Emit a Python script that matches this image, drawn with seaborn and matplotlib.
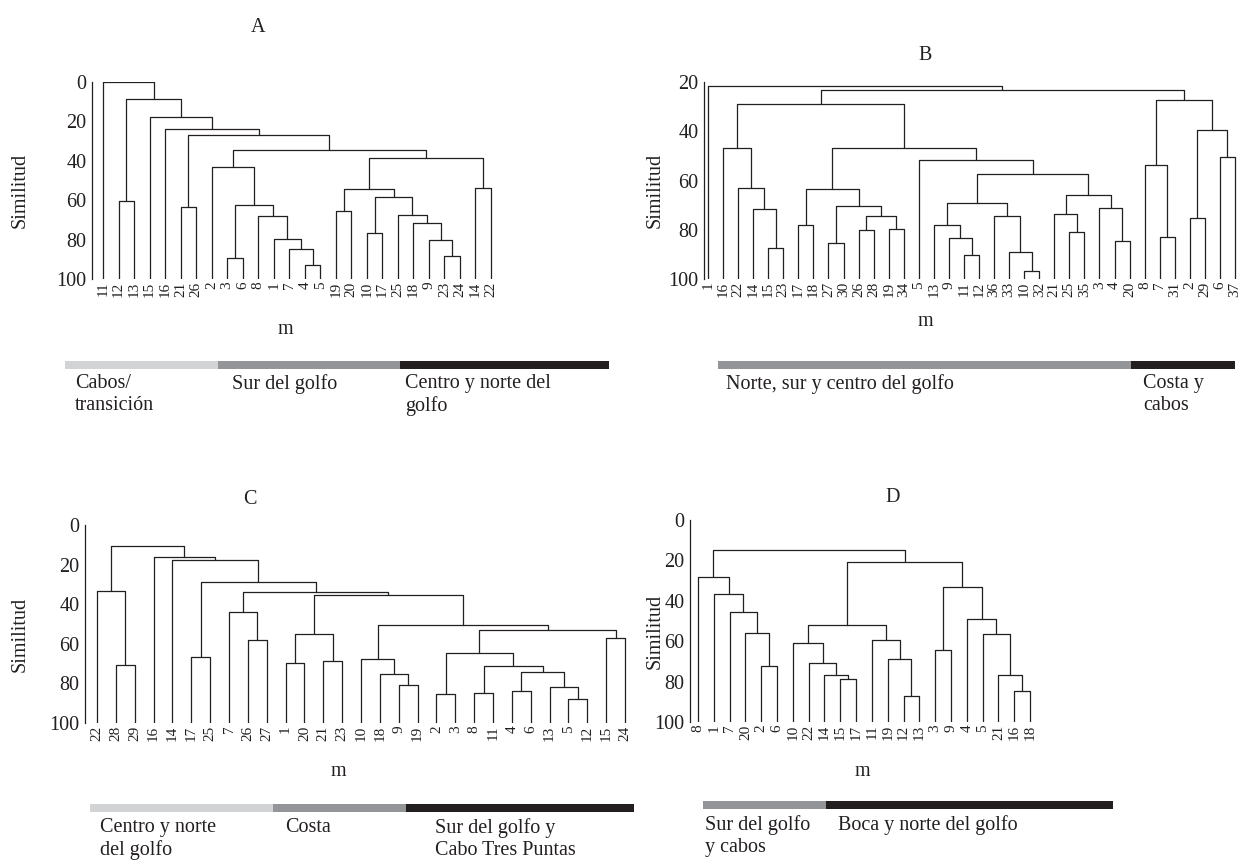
import numpy as np
import pandas as pd
import matplotlib
matplotlib.use("Agg")
import matplotlib.pyplot as plt
import seaborn as sns

sns.set_style("white")
plt.rcParams['font.family'] = ['Liberation Serif', 'DejaVu Serif']

W, H = 1256, 867
LINE = '#231f20'
LIGHT, MID, DARK = '#d1d3d4', '#939598', '#231f20'

# ---------------- data: leaf orders and merge trees (left, right, similarity) ----------------
leaves_A = [11, 12, 13, 15, 16, 21, 26, 2, 3, 6, 8, 1, 7, 4, 5, 19, 20, 10, 17, 25, 18, 9, 23, 24, 14, 22]
A_left = (2, ((3, 6, 89.2), (8, (1, (7, (4, 5, 93.0), 84.9), 79.7), 68.1), 62.2), 43.4)
A_right = (((19, 20, 65.6), ((10, 17, 76.4), (25, (18, (9, (23, 24, 88.5), 80.3), 71.7), 67.6), 58.5), 54.4),
           (14, 22, 53.7), 38.8)
tree_A = (11, ((12, 13, 60.3), (15, (16, ((21, 26, 63.7), (A_left, A_right, 34.7), 27.0), 24.0), 17.8), 8.6), 0.0)

leaves_B = [1, 16, 22, 14, 15, 23, 17, 18, 27, 30, 26, 28, 19, 34, 5, 13, 9, 11, 12, 36, 33, 10, 32,
            21, 25, 35, 3, 4, 20, 8, 7, 31, 2, 29, 6, 37]
B_y1 = (16, (22, (14, (15, 23, 87.4), 71.4), 62.9), 46.8)
B_z1 = ((17, 18, 78.0), ((27, 30, 85.4), ((26, 28, 80.0), (19, 34, 79.7), 74.4), 70.2), 63.3)
B_w1 = ((13, (9, (11, 12, 90.2), 83.5), 78.0), (36, (33, (10, 32, 96.7), 89.2), 74.3), 69.0)
B_w2 = ((21, (25, 35, 81.0), 73.7), (3, (4, 20, 84.7), 71.3), 65.9)
B_g = ((8, (7, 31, 82.9), 53.8), ((2, 29, 75.3), (6, 37, 50.3), 39.6), 27.3)
tree_B = (1, ((B_y1, (B_z1, (5, (B_w1, B_w2, 57.2), 51.7), 46.6), 29.1), B_g, 23.2), 21.8)

leaves_C = [22, 28, 29, 16, 14, 17, 25, 7, 26, 27, 1, 20, 21, 23, 10, 18, 9, 19, 2, 3, 8, 11, 4, 6, 13, 5, 12, 15, 24]
C_r7 = (((2, 3, 85.6), ((8, 11, 84.6), ((4, 6, 83.6), (13, (5, 12, 87.8), 81.7), 74.4), 71.0), 64.4),
        (15, 24, 57.1), 52.9)
C_r6 = ((10, (18, (9, 19, 80.8), 75.4), 67.6), C_r7, 50.4)
C_r5 = (((1, 20, 69.7), (21, 23, 68.8), 55.3), C_r6, 35.6)
C_r4 = ((7, (26, 27, 58.1), 43.9), C_r5, 33.8)
tree_C = ((22, (28, 29, 70.7), 33.4), (16, (14, ((17, 25, 66.5), C_r4, 28.7), 17.6), 16.1), 10.6)

leaves_D = [8, 1, 7, 20, 2, 6, 10, 22, 14, 15, 17, 11, 19, 12, 13, 3, 9, 4, 5, 21, 16, 18]
D_left = (8, (1, (7, (20, (2, 6, 72.5), 55.9), 45.6), 36.6), 28.2)
D_a = (10, (22, (14, (15, 17, 78.7), 76.5), 70.9), 60.7)
D_b = (11, (19, (12, 13, 87.3), 68.6), 59.2)
D_c = ((3, 9, 64.6), (4, (5, (21, (16, 18, 84.5), 76.5), 56.2), 49.2), 33.3)
tree_D = (D_left, ((D_a, D_b, 51.8), D_c, 20.7), 14.9)

groups_A = ['Cabos/\ntransición', 'Sur del golfo', 'Centro y norte del\ngolfo']
groups_B = ['Norte, sur y centro del golfo', 'Costa y\ncabos']
groups_C = ['Centro y norte\ndel golfo', 'Costa', 'Sur del golfo y\nCabo Tres Puntas']
groups_D = ['Sur del golfo\ny cabos', 'Boca y norte del golfo']

# ---------------- helpers ----------------
def links_of(tree, order):
    rows = []
    def walk(node):
        if not isinstance(node, tuple):
            return order.index(node), 100.0
        l, r, h = node
        xl, hl = walk(l)
        xr, hr = walk(r)
        k = len(rows) // 4
        for j, (x, y) in enumerate([(xl, hl), (xl, h), (xr, h), (xr, hr)]):
            rows.append(dict(link=k, j=j, x=x, y=y))
        return (xl + xr) / 2.0, h
    walk(tree)
    return pd.DataFrame(rows)

fig = plt.figure(figsize=(W / 100, H / 100), dpi=100)
FS = 14.5

# layout (pixels): spine x, first leaf x, last leaf x, y of top tick, y of 100, x of y-label
layout = {
    'A': (92, 103, 491, 82, 279, 20),
    'B': (704, 708, 1235, 82, 279, 655),
    'C': (85, 97, 625, 525, 723, 20),
    'D': (690, 698, 1030, 520, 722, 655),
}
title_pos = {'A': (258, 27), 'B': (925, 55), 'C': (250, 500), 'D': (893, 497)}
m_pos = {'A': (285, 330), 'B': (925, 322), 'C': (338, 772), 'D': (862, 772)}

panels = [('A', leaves_A, tree_A, 0), ('B', leaves_B, tree_B, 20),
          ('C', leaves_C, tree_C, 0), ('D', leaves_D, tree_D, 0)]

for name, leaves, tree, ymin in panels:
    sx, l0, l1, yt, yb, lx = layout[name]
    n = len(leaves)
    sp = (l1 - l0) / (n - 1)
    xlo = -(l0 - sx) / sp
    xhi = n - 1 + 0.5
    right = l1 + 0.5 * sp
    ax = fig.add_axes([sx / W, 1 - yb / H, (right - sx) / W, (yb - yt) / H])
    df = links_of(tree, leaves)
    sns.lineplot(data=df, x='x', y='y', units='link', estimator=None, sort=False,
                 color=LINE, lw=0.9, ax=ax, legend=False)
    ax.set_xlim(xlo, xhi)
    ax.set_ylim(100, ymin)
    for s in ['top', 'right', 'bottom']:
        ax.spines[s].set_visible(False)
    ax.spines['left'].set_color(LINE)
    ax.spines['left'].set_linewidth(0.9)
    ax.set_yticks(np.arange(ymin, 101, 20))
    ax.set_yticklabels([str(v) for v in np.arange(ymin, 101, 20)], fontsize=FS)
    ax.tick_params(axis='y', direction='out', length=3, width=0.8, pad=1, colors=LINE)
    ax.set_xticks(range(n))
    ax.set_xticklabels([str(v) for v in leaves], rotation=90, fontsize=11)
    ax.tick_params(axis='x', length=0, pad=2, colors=LINE)
    ax.set_xlabel('')
    ax.set_ylabel('')
    ax.patch.set_alpha(0)
    tx, ty = title_pos[name]
    fig.text(tx / W, 1 - ty / H, name, ha='center', va='center', fontsize=FS, color=LINE)
    mx, my = m_pos[name]
    fig.text(mx / W, 1 - my / H, 'm', ha='center', va='center', fontsize=FS, color=LINE)
    fig.text(lx / W, 1 - ((yt + yb) / 2 + 10) / H, 'Similitud',
             rotation=90, ha='center', va='center', fontsize=FS, color=LINE)

# ---------------- group bars ----------------
ov = fig.add_axes([0, 0, 1, 1])
ov.set_xlim(0, W)
ov.set_ylim(H, 0)
ov.axis('off')
ov.patch.set_alpha(0)

bars = [
    (groups_A, [65, 218, 400, 609], [LIGHT, MID, DARK], 361, 8, [75, 232, 405], 374),
    (groups_B, [718, 1131, 1235], [MID, DARK], 361, 8, [726, 1143], 374),
    (groups_C, [90, 273, 406, 634], [LIGHT, MID, DARK], 804, 8, [100, 285, 435], 818),
    (groups_D, [703, 826, 1113], [MID, DARK], 801, 8, [705, 838], 815),
]
for labels, edges, cols, y, h, lx, ly in bars:
    ov.barh([y + h / 2] * len(cols), np.diff(edges), left=edges[:-1], height=h, color=cols, linewidth=0)
    for lab, x in zip(labels, lx):
        ov.text(x, ly, lab, ha='left', va='top', fontsize=FS, color=LINE, linespacing=1.2)

fig.savefig('out.png', dpi=100)
